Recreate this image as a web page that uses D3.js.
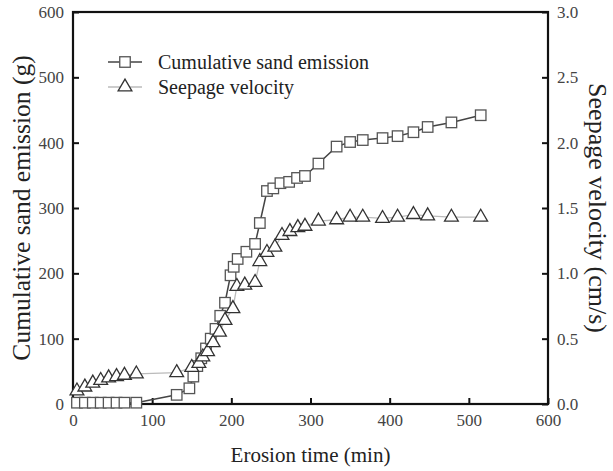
<!DOCTYPE html>
<html>
<head>
<meta charset="utf-8">
<script src="https://cdn.jsdelivr.net/npm/d3@7"></script>
<style>
  body { margin: 0; background: #fff; }
  svg text { font-family: "Liberation Serif", "Times New Roman", serif; }
</style>
</head>
<body>
<div id="chart"></div>
<script>
// Data
var sandTime = [5, 15, 25, 35, 45, 55, 65, 80, 131, 147, 152, 157, 162, 168, 174, 180, 186, 192, 199, 203, 208, 219, 230, 236, 245, 253, 262, 273, 283, 293, 310, 333, 350, 366, 391, 410, 430, 448, 478, 515];
var sandValue = [2, 2, 2, 2, 2, 2, 2, 2, 14, 24, 42, 58, 70, 85, 100, 115, 135, 155, 197, 210, 222, 233, 245, 277, 326, 330, 338, 340, 346, 349, 368, 394, 401, 404, 407, 410, 416, 424, 431, 442];

var velTime = [5, 15, 25, 35, 45, 55, 65, 80, 131, 150, 159, 164, 170, 177, 185, 192, 202, 207, 217, 230, 236, 245, 255, 264, 274, 284, 293, 310, 333, 350, 366, 391, 410, 430, 448, 478, 515];
var velValue = [0.10, 0.13, 0.16, 0.18, 0.20, 0.21, 0.22, 0.23, 0.24, 0.28, 0.31, 0.36, 0.40, 0.47, 0.55, 0.64, 0.73, 0.90, 0.91, 0.93, 1.09, 1.16, 1.20, 1.29, 1.32, 1.35, 1.36, 1.40, 1.41, 1.43, 1.43, 1.42, 1.43, 1.45, 1.44, 1.43, 1.43];

var xTicks = [0, 100, 200, 300, 400, 500, 600];
var yTicks = [0, 100, 200, 300, 400, 500, 600];
var y2Ticks = [0, 0.5, 1.0, 1.5, 2.0, 2.5, 3.0];

var svgWidth = 613;
var svgHeight = 471;
var margin = { top: 12, right: 65, bottom: 67, left: 73 };
var chartWidth = svgWidth - margin.left - margin.right;
var chartHeight = svgHeight - margin.top - margin.bottom;

var svg = d3.select("#chart")
  .append("svg")
  .attr("width", svgWidth)
  .attr("height", svgHeight);

var chartGroup = svg.append("g")
  .attr("transform", `translate(${margin.left}, ${margin.top})`);

// scales
var xScale = d3.scaleLinear().domain([0, 600]).range([0, chartWidth]);
var yScale = d3.scaleLinear().domain([0, 600]).range([chartHeight, 0]);
var y2Scale = d3.scaleLinear().domain([0, 3]).range([chartHeight, 0]);

// axes with inward ticks
var bottomAxis = d3.axisBottom(xScale).tickValues(xTicks).tickSizeInner(-6).tickSizeOuter(0).tickPadding(10);
var leftAxis = d3.axisLeft(yScale).tickValues(yTicks).tickSizeInner(-6).tickSizeOuter(0).tickPadding(9);
var rightAxis = d3.axisRight(y2Scale).tickValues(y2Ticks).tickFormat(d3.format(".1f")).tickSizeInner(-6).tickSizeOuter(0).tickPadding(9);

function styleAxis(g) {
  g.select(".domain").remove();
  g.selectAll(".tick line").attr("stroke", "#111").attr("stroke-width", 2);
  g.selectAll(".tick text").attr("fill", "#444").style("font-size", "17px");
}

chartGroup.append("g")
  .attr("transform", `translate(0, ${chartHeight})`)
  .call(bottomAxis)
  .call(styleAxis);

chartGroup.append("g")
  .call(leftAxis)
  .call(styleAxis);

chartGroup.append("g")
  .attr("transform", `translate(${chartWidth}, 0)`)
  .call(rightAxis)
  .call(styleAxis);

// frame
chartGroup.append("rect")
  .attr("x", 0)
  .attr("y", 0)
  .attr("width", chartWidth)
  .attr("height", chartHeight)
  .attr("fill", "none")
  .attr("stroke", "#111")
  .attr("stroke-width", 2.2);

var sandData = sandTime.map((t, i) => ({ t: t, v: sandValue[i] }));
var velData = velTime.map((t, i) => ({ t: t, v: velValue[i] }));

var triangle = d3.symbol().type(d3.symbolTriangle).size(82);
var sq = 10.5;

// seepage velocity line
chartGroup.append("path")
  .datum(velData)
  .attr("fill", "none")
  .attr("stroke", "#bbb")
  .attr("stroke-width", 1.3)
  .attr("d", d3.line().x(d => xScale(d.t)).y(d => y2Scale(d.v)));

// cumulative sand line
chartGroup.append("path")
  .datum(sandData)
  .attr("fill", "none")
  .attr("stroke", "#444")
  .attr("stroke-width", 1.5)
  .attr("d", d3.line().x(d => xScale(d.t)).y(d => yScale(d.v)));

chartGroup.selectAll(".sq")
  .data(sandData)
  .enter()
  .append("rect")
  .attr("class", "sq")
  .attr("x", d => xScale(d.t) - sq / 2)
  .attr("y", d => yScale(d.v) - sq / 2)
  .attr("width", sq)
  .attr("height", sq)
  .attr("fill", "#fff")
  .attr("stroke", "#555")
  .attr("stroke-width", 1.3);

chartGroup.selectAll(".tri")
  .data(velData)
  .enter()
  .append("path")
  .attr("class", "tri")
  .attr("transform", d => `translate(${xScale(d.t)}, ${y2Scale(d.v)})`)
  .attr("d", triangle)
  .attr("fill", "#fff")
  .attr("stroke", "#333")
  .attr("stroke-width", 1.3);

// legend
var legend = chartGroup.append("g").attr("transform", "translate(35, 50)");
legend.append("line").attr("x1", 0).attr("x2", 34).attr("y1", 0).attr("y2", 0)
  .attr("stroke", "#444").attr("stroke-width", 1.5);
legend.append("rect").attr("x", 17 - sq / 2).attr("y", -sq / 2).attr("width", sq).attr("height", sq)
  .attr("fill", "#fff").attr("stroke", "#555").attr("stroke-width", 1.3);
legend.append("text").attr("x", 50).attr("y", 7).attr("fill", "#222")
  .style("font-size", "20px").text("Cumulative sand emission");

legend.append("line").attr("x1", 0).attr("x2", 34).attr("y1", 25).attr("y2", 25)
  .attr("stroke", "#bbb").attr("stroke-width", 1.3);
legend.append("path").attr("transform", "translate(17, 25)").attr("d", triangle)
  .attr("fill", "#fff").attr("stroke", "#333").attr("stroke-width", 1.3);
legend.append("text").attr("x", 50).attr("y", 32).attr("fill", "#222")
  .style("font-size", "20px").text("Seepage velocity");

// axis titles
svg.append("text")
  .attr("x", margin.left + chartWidth / 2)
  .attr("y", 462)
  .attr("text-anchor", "middle")
  .attr("fill", "#222")
  .style("font-size", "21px")
  .text("Erosion time (min)");

svg.append("text")
  .attr("transform", `translate(30, ${margin.top + chartHeight / 2}) rotate(-90)`)
  .attr("text-anchor", "middle")
  .attr("fill", "#222")
  .style("font-size", "25.5px")
  .text("Cumulative sand emission (g)");

svg.append("text")
  .attr("transform", `translate(589, ${margin.top + chartHeight / 2}) rotate(90)`)
  .attr("text-anchor", "middle")
  .attr("fill", "#222")
  .style("font-size", "26px")
  .text("Seepage velocity (cm/s)");
</script>
</body>
</html>
